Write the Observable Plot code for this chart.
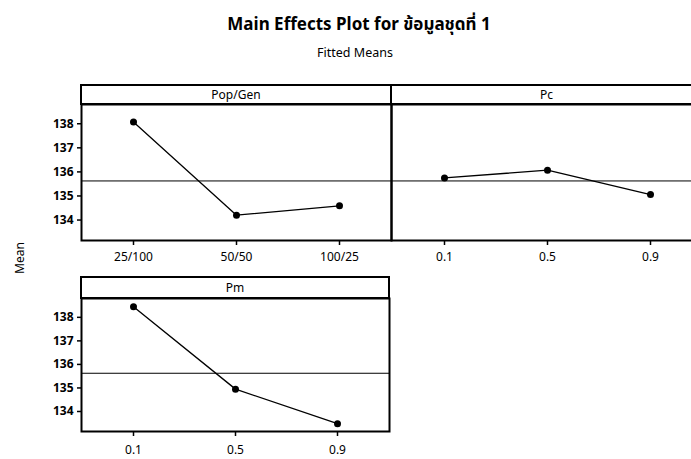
<!DOCTYPE html>
<html>
<head>
<meta charset="utf-8">
<script src="https://cdn.jsdelivr.net/npm/d3@7"></script>
<script src="https://cdn.jsdelivr.net/npm/@observablehq/plot@0.6"></script>
<style>
  html, body { margin: 0; padding: 0; background: white; overflow: hidden; }
  #wrap { position: relative; width: 691px; height: 459px; overflow: hidden; background: white;
          font-family: "Noto Sans", "Open Sans", "Noto Sans Thai", "Tahoma", sans-serif; color: black; }
  #title { position: absolute; top: 12px; left: 0; width: 718px; text-align: center; font-size: 17px; font-weight: bold; }
  #subtitle { position: absolute; top: 44px; left: 0; width: 710px; text-align: center; font-size: 12.5px; }
  #ylab { position: absolute; left: 19px; top: 258px; transform: translate(-50%, -50%) rotate(-90deg); font-size: 12px; white-space: nowrap; }
  .panel { position: absolute; }
  .panel svg { max-width: none !important; background: transparent !important; overflow: visible; }
</style>
</head>
<body>
<div id="wrap">
  <div id="title">Main Effects Plot for ข้อมูลชุดที่ 1</div>
  <div id="subtitle">Fitted Means</div>
  <div id="ylab">Mean</div>
</div>
<script>
// ---- data ----
const popGenLevels = ["25/100", "50/50", "100/25"];
const popGenMeans  = [138.07, 134.20, 134.59];
const pcLevels     = ["0.1", "0.5", "0.9"];
const pcMeans      = [135.75, 136.07, 135.06];
const pmLevels     = ["0.1", "0.5", "0.9"];
const pmMeans      = [138.45, 134.95, 133.48];
const yTicks       = [134, 135, 136, 137, 138];
const yDomain      = [133.15, 138.8];

const grandMean = d3.mean([...popGenMeans, ...pcMeans, ...pmMeans]);
const FONT = '"Noto Sans", "Open Sans", sans-serif';

function panel(o) {
  const data = o.levels.map((l, i) => ({level: l, mean: o.means[i]}));
  const headerMark = () => {
    const g = d3.create("svg:g");
    const x0 = o.marginLeft, x1 = o.width - o.marginRight;
    g.append("rect")
      .attr("x", x0).attr("y", o.headTop)
      .attr("width", x1 - x0).attr("height", o.marginTop - o.headTop)
      .attr("fill", "white").attr("stroke", "black").attr("stroke-width", 2);
    g.append("text")
      .attr("x", (x0 + Math.min(x1, 702 - o.left)) / 2)
      .attr("y", (o.headTop + o.marginTop) / 2)
      .attr("dy", "0.35em")
      .attr("text-anchor", "middle")
      .attr("font-size", 12)
      .attr("font-family", FONT)
      .attr("fill", "black")
      .text(o.name);
    return g.node();
  };
  const marks = [
    Plot.ruleY([grandMean], {stroke: "black", strokeWidth: 1}),
    Plot.line(data, {x: "level", y: "mean", stroke: "black", strokeWidth: 1.3}),
    Plot.dot(data, {x: "level", y: "mean", r: 3.5, fill: "black"}),
    Plot.frame({stroke: "black", strokeWidth: 2}),
    Plot.axisX({tickSize: 5, tickPadding: o.tickPadding, fontSize: 12, label: null, strokeWidth: 1.5})
  ];
  if (o.showY) marks.push(Plot.axisY(yTicks, {tickSize: 4, tickPadding: 4, fontSize: 12, fontWeight: "bold", label: null, strokeWidth: 1.5}));
  marks.push(headerMark);
  const chart = Plot.plot({
    width: o.width, height: o.height,
    marginLeft: o.marginLeft, marginRight: o.marginRight,
    marginTop: o.marginTop, marginBottom: o.marginBottom,
    style: {fontFamily: FONT, fontSize: "12px", color: "black", background: "transparent", overflow: "visible"},
    x: {type: "point", domain: o.levels, padding: 0.5, label: null},
    y: {domain: yDomain, label: null, axis: o.showY ? undefined : null},
    marks
  });
  const div = document.createElement("div");
  div.className = "panel";
  div.style.left = o.left + "px";
  div.style.top = o.top + "px";
  div.appendChild(chart);
  document.getElementById("wrap").appendChild(div);
}

panel({name: "Pop/Gen", levels: popGenLevels, means: popGenMeans, showY: true,
  left: 0, top: 83, width: 393, height: 187, marginLeft: 81, marginRight: 2,
  headTop: 2, marginTop: 21, marginBottom: 30, tickPadding: 7});
panel({name: "Pc", levels: pcLevels, means: pcMeans, showY: false,
  left: 389, top: 83, width: 315, height: 187, marginLeft: 2, marginRight: 2,
  headTop: 2, marginTop: 21, marginBottom: 30, tickPadding: 7});
panel({name: "Pm", levels: pmLevels, means: pmMeans, showY: true,
  left: 0, top: 275, width: 391, height: 184, marginLeft: 81, marginRight: 2,
  headTop: 2, marginTop: 23, marginBottom: 28, tickPadding: 9});
</script>
</body>
</html>
